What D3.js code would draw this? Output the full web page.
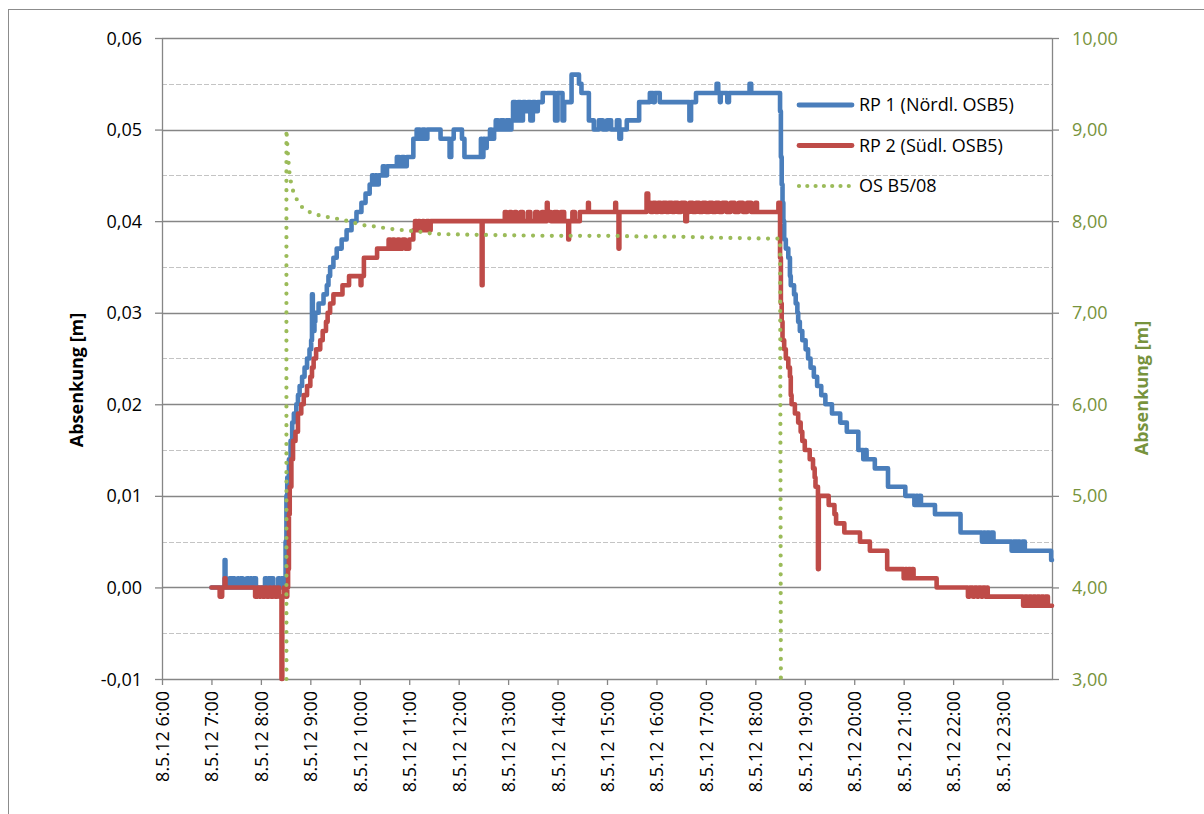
<!DOCTYPE html>
<html><head><meta charset="utf-8">
<script src="https://cdn.jsdelivr.net/npm/d3@7"></script>
<style>
body{margin:0;background:#fff;}
svg{display:block;font-family:"Open Sans",sans-serif;}
</style></head><body>
<svg id="chart" width="1204" height="814"></svg>
<script>
// ---------- data ----------
const xTickHours = [6,7,8,9,10,11,12,13,14,15,16,17,18,19,20,21,22,23];
const xTickLabels = ["8.5.12 6:00","8.5.12 7:00","8.5.12 8:00","8.5.12 9:00","8.5.12 10:00","8.5.12 11:00","8.5.12 12:00","8.5.12 13:00","8.5.12 14:00","8.5.12 15:00","8.5.12 16:00","8.5.12 17:00","8.5.12 18:00","8.5.12 19:00","8.5.12 20:00","8.5.12 21:00","8.5.12 22:00","8.5.12 23:00"];
const leftTicks = [-0.01,0,0.01,0.02,0.03,0.04,0.05,0.06];
const leftMinor = [-0.005,0.005,0.015,0.025,0.035,0.045,0.055];
const rightTicks = [3,4,5,6,7,8,9,10];
const seriesNames = ["RP 1 (Nördl. OSB5)","RP 2 (Südl. OSB5)","OS B5/08"];

// RP 1 : [time, drawdown m] (value holds until next entry)
const rp1 = [
["07:00",0],["07:16",0.003],["07:17",0],
["07:22",0.001],["07:24",0],["07:25",0.001],["07:28",0],
["07:32",0.001],["07:33",0],["07:35",0.001],["07:38",0],
["07:43",0.001],["07:45",0],["07:47",0.001],["07:49",0],
["07:51",0.001],["07:54",0],
["08:05",0.001],["08:07",0],["08:09",0.001],["08:11",0],["08:12",0.001],["08:15",0],
["08:21",0.001],["08:23",0],["08:25",0.001],["08:27",0],
["08:29",0.001],["08:30",0.005],["08:31",0.010],["08:32",0.012],["08:34",0.014],["08:36",0.016],["08:38",0.018],["08:40",0.019],["08:43",0.020],["08:45",0.021],["08:47",0.022],["08:50",0.023],["08:53",0.024],["08:56",0.025],["08:59",0.026],["09:01",0.027],["09:02",0.032],["09:03",0.028],["09:05",0.029],["09:06",0.030],["09:10",0.031],["09:16",0.032],["09:20",0.033],["09:22",0.034],["09:24",0.035],["09:28",0.036],["09:32",0.037],["09:38",0.038],["09:44",0.039],["09:50",0.040],["09:56",0.041],["10:02",0.042],["10:07",0.043],["10:12",0.044],["10:15",0.045],["10:17",0.044],["10:19",0.045],["10:21",0.044],["10:23",0.045],["10:28",0.046],["10:30",0.045],["10:33",0.046],["10:45",0.047],["10:48",0.046],["10:51",0.047],["10:54",0.046],["10:57",0.047],["11:05",0.049],["11:09",0.050],["11:13",0.049],["11:16",0.050],["11:19",0.049],["11:22",0.050],["11:38",0.049],["11:49",0.047],["11:51",0.049],["11:54",0.050],["12:04",0.049],["12:07",0.047],["12:27",0.049],["12:28",0.047],["12:30",0.049],["12:32",0.048],["12:34",0.049],["12:38",0.050],["12:40",0.049],["12:43",0.050],["12:45",0.051],["12:48",0.050],["12:51",0.051],["12:55",0.050],["12:58",0.051],["13:02",0.050],["13:04",0.051],["13:06",0.053],["13:09",0.051],["13:12",0.053],["13:15",0.051],["13:18",0.053],["13:21",0.052],["13:24",0.053],["13:27",0.051],["13:30",0.053],["13:33",0.052],["13:36",0.053],["13:42",0.054],["13:57",0.051],["14:00",0.054],["14:06",0.051],["14:08",0.053],["14:17",0.056],["14:26",0.055],["14:29",0.054],["14:38",0.051],["14:44",0.050],["14:50",0.051],["14:55",0.050],["15:00",0.051],["15:05",0.050],["15:12",0.051],["15:15",0.049],["15:17",0.050],["15:24",0.051],["15:39",0.053],["15:52",0.054],["15:56",0.053],["15:58",0.054],["16:04",0.053],["16:40",0.051],["16:42",0.053],["16:48",0.054],["17:13",0.055],["17:15",0.054],["17:17",0.053],["17:18",0.054],["17:26",0.053],["17:28",0.054],["17:53",0.055],["17:55",0.054],
["18:30",0.052],["18:31",0.047],["18:32",0.044],["18:33",0.042],["18:34",0.040],["18:35",0.038],["18:37",0.037],["18:40",0.036],["18:42",0.034],["18:43",0.033],["18:47",0.032],["18:49",0.031],["18:51",0.030],["18:52",0.029],["18:54",0.028],["18:57",0.027],["19:01",0.026],["19:04",0.025],["19:07",0.024],["19:11",0.023],["19:15",0.022],["19:20",0.021],["19:25",0.020],["19:33",0.019],["19:43",0.018],["19:51",0.017],["20:05",0.015],["20:11",0.014],["20:13",0.015],["20:15",0.014],["20:25",0.013],["20:41",0.011],["21:02",0.010],["21:13",0.009],["21:15",0.010],["21:17",0.009],["21:19",0.010],["21:21",0.009],["21:38",0.008],["22:09",0.006],["22:35",0.005],["22:37",0.006],["22:39",0.005],["22:41",0.006],["22:44",0.005],["22:46",0.006],["22:49",0.005],["23:11",0.004],["23:13",0.005],["23:16",0.004],["23:18",0.005],["23:21",0.004],["23:24",0.005],["23:27",0.004],["23:59",0.003],["24:00",0.003]
];

// RP 2 : [time, drawdown m]
const rp2 = [
["07:00",0],["07:10",-0.001],["07:13",0],["07:16",0.001],["07:17",0],
["07:53",-0.001],["07:56",0],["07:58",-0.001],["08:00",0],["08:02",-0.001],["08:05",0],["08:07",-0.001],["08:10",0],["08:12",-0.001],["08:15",0],["08:17",-0.001],["08:20",0],["08:22",-0.001],["08:25",-0.010],["08:26",-0.001],["08:28",0],["08:30",-0.001],["08:32",0],
["08:33",0.002],["08:34",0.008],["08:35",0.011],["08:37",0.014],["08:39",0.016],["08:42",0.017],["08:45",0.019],["08:49",0.020],["08:52",0.021],["08:56",0.022],["09:00",0.023],["09:02",0.024],["09:04",0.025],["09:07",0.026],["09:12",0.027],["09:15",0.028],["09:19",0.029],["09:21",0.030],["09:24",0.031],["09:28",0.032],["09:39",0.033],["09:47",0.034],["10:01",0.033],["10:02",0.034],["10:05",0.036],["10:21",0.037],["10:35",0.038],["10:37",0.037],["10:40",0.038],["10:42",0.037],["10:46",0.038],["10:48",0.037],["10:52",0.038],["10:55",0.037],["11:00",0.038],["11:05",0.039],["11:07",0.040],["11:09",0.039],["11:11",0.040],["11:13",0.039],["11:16",0.040],["11:18",0.039],["11:21",0.040],["11:24",0.039],["11:26",0.040],
["12:28",0.033],["12:29",0.040],
["12:56",0.041],["12:58",0.040],["13:02",0.041],["13:04",0.040],["13:08",0.041],["13:10",0.040],["13:15",0.041],["13:18",0.040],["13:24",0.041],["13:27",0.040],["13:33",0.041],["13:36",0.040],["13:41",0.041],["13:43",0.040],["13:47",0.042],["13:48",0.041],["13:52",0.040],["13:56",0.041],["14:00",0.040],["14:04",0.041],["14:08",0.040],["14:13",0.038],["14:14",0.040],["14:18",0.041],["14:21",0.040],["14:27",0.041],["14:37",0.042],["14:38",0.041],["15:10",0.042],["15:11",0.041],["15:14",0.037],["15:15",0.041],["15:48",0.043],["15:50",0.042],["15:53",0.041],["15:56",0.042],["15:59",0.041],["16:02",0.042],["16:05",0.041],["16:08",0.042],["16:12",0.041],["16:15",0.042],["16:19",0.041],["16:22",0.042],["16:26",0.041],["16:30",0.042],["16:35",0.040],["16:37",0.041],["16:40",0.042],["16:44",0.041],["16:48",0.042],["16:52",0.041],["16:56",0.042],["17:00",0.041],["17:04",0.042],["17:08",0.041],["17:12",0.042],["17:16",0.041],["17:20",0.042],["17:25",0.041],["17:30",0.042],["17:35",0.041],["17:40",0.042],["17:45",0.041],["17:50",0.042],["17:55",0.041],["18:00",0.042],["18:02",0.041],["18:28",0.042],
["18:30",0.036],["18:31",0.031],["18:32",0.029],["18:33",0.027],["18:35",0.026],["18:37",0.025],["18:40",0.024],["18:42",0.023],["18:43",0.021],["18:44",0.020],["18:48",0.019],["18:52",0.018],["18:55",0.017],["18:57",0.016],["19:00",0.015],["19:06",0.014],["19:10",0.013],["19:12",0.012],["19:13",0.011],["19:16",0.002],["19:17",0.010],["19:29",0.009],["19:36",0.008],["19:38",0.007],["19:48",0.006],["20:07",0.005],["20:19",0.004],["20:40",0.002],["21:00",0.001],["21:02",0.002],["21:04",0.001],["21:06",0.002],["21:08",0.001],["21:10",0.002],["21:12",0.001],["21:40",0],["22:18",-0.001],["22:20",0],["22:24",-0.001],["22:26",0],["22:29",-0.001],["22:31",0],["22:34",-0.001],["22:36",0],["22:39",-0.001],["22:41",0],["22:42",-0.001],["23:25",-0.002],["23:27",-0.001],["23:30",-0.002],["23:32",-0.001],["23:35",-0.002],["23:37",-0.001],["23:40",-0.002],["23:42",-0.001],["23:45",-0.002],["23:47",-0.001],["23:50",-0.002],["23:52",-0.001],["23:55",-0.002],["24:00",-0.002]
];

// OS B5/08 : [time, drawdown m] (secondary axis)
const osb = [
["08:31",3.0],["08:31",9.0],["08:32",8.85],["08:33",8.7],["08:34",8.6],["08:35",8.5],["08:37",8.4],["08:40",8.3],["08:44",8.23],["08:51",8.14],["09:01",8.09],["09:12",8.06],["09:24",8.04],["09:36",8.02],["09:46",8.00],["09:58",7.97],["10:08",7.95],["10:21",7.94],["10:33",7.92],["10:43",7.91],["10:55",7.90],["11:05",7.89],["11:17",7.88],["11:29",7.86],["12:26",7.85],["13:46",7.84],["15:07",7.84],["15:48",7.83],["16:29",7.83],["17:09",7.82],["18:09",7.81],["18:30",7.81],["18:31",3.0]
];

// ---------- chart ----------
const T = s => { const [h,m] = s.split(":").map(Number); return new Date(2012,4,8,h,m); };
const loc = d3.formatLocale({decimal:",",thousands:".",grouping:[3],currency:["","€"],minus:"-"});
const f2 = loc.format(".2f");

const L = 162, R = 1052, TOP = 38, BOT = 679;
const x = d3.scaleTime().domain([T("06:00"), T("24:00")]).range([L, R]);
const yL = d3.scaleLinear().domain([-0.01, 0.06]).range([BOT, TOP]);
const yR = d3.scaleLinear().domain([3, 10]).range([BOT, TOP]);

const svg = d3.select("#chart");
const axisCol = "#868686", green = "#77933C";
const FS = "18px";

svg.append("rect").attr("x",8.5).attr("y",9.5).attr("width",1210).attr("height",820)
  .attr("fill","#fff").attr("stroke","#8c8c8c").attr("stroke-width",1);

// gridlines
svg.append("g").selectAll("line").data(leftMinor).join("line")
  .attr("x1",L).attr("x2",R).attr("y1",d=>Math.round(yL(d))+0.5).attr("y2",d=>Math.round(yL(d))+0.5)
  .attr("stroke","#c4c4c4").attr("stroke-width",1).attr("stroke-dasharray","5,2");
svg.append("g").selectAll("line").data(leftTicks.filter(d=>d>-0.01)).join("line")
  .attr("x1",L).attr("x2",R).attr("y1",d=>Math.round(yL(d))+0.5).attr("y2",d=>Math.round(yL(d))+0.5)
  .attr("stroke",axisCol).attr("stroke-width",1.3);

// axes
function styleAxis(g){
  g.select(".domain").attr("stroke",axisCol).attr("stroke-width",1.3);
  g.selectAll(".tick line").attr("stroke",axisCol).attr("stroke-width",1.3);
  g.selectAll("text").style("font-size",FS).style("font-family","'Open Sans',sans-serif");
}
const gl = svg.append("g").attr("transform",`translate(${L},0)`)
  .call(d3.axisLeft(yL).tickValues(leftTicks).tickFormat(f2).tickSize(7).tickSizeOuter(0).tickPadding(13));
styleAxis(gl); gl.selectAll("text").attr("fill","#000").attr("dy","0.34em");

const gr = svg.append("g").attr("transform",`translate(${R},0)`)
  .call(d3.axisRight(yR).tickValues(rightTicks).tickFormat(f2).tickSize(7).tickSizeOuter(0).tickPadding(13));
styleAxis(gr); gr.selectAll("text").attr("fill",green).attr("dy","0.34em");

const gx = svg.append("g").attr("transform",`translate(0,${BOT})`)
  .call(d3.axisBottom(x).tickValues(xTickHours.map(h=>new Date(2012,4,8,h,0)))
    .tickFormat((d,i)=>xTickLabels[i]).tickSize(6).tickSizeOuter(0));
styleAxis(gx);
gx.selectAll("text").attr("fill","#000").attr("transform","rotate(-90)")
  .attr("x",-12).attr("y",0).attr("dy","0.36em").style("text-anchor","end");

// axis titles
svg.append("text").attr("transform","translate(83,380) rotate(-90)")
  .attr("text-anchor","middle").style("font-size",FS).style("font-weight","bold").attr("fill","#000")
  .text("Absenkung [m]");
svg.append("text").attr("transform","translate(1148,388) rotate(-90)")
  .attr("text-anchor","middle").style("font-size",FS).style("font-weight","bold").attr("fill",green)
  .text("Absenkung [m]");

// series
const blue = "#4A7EBB", red = "#BE4B48", lime = "#9BBB59";
const stepLine = d3.line().x(d=>x(T(d[0]))).y(d=>yL(d[1])).curve(d3.curveStepAfter);
const osLine = d3.line().x(d=>x(T(d[0]))).y(d=>yR(d[1]));

svg.append("path").datum(rp1).attr("d",stepLine).attr("fill","none")
  .attr("stroke",blue).attr("stroke-width",4.6).attr("stroke-linejoin","round").attr("stroke-linecap","round");
svg.append("path").datum(rp2).attr("d",stepLine).attr("fill","none")
  .attr("stroke",red).attr("stroke-width",4.6).attr("stroke-linejoin","round").attr("stroke-linecap","round");
svg.append("path").datum(osb).attr("d",osLine).attr("fill","none")
  .attr("stroke",lime).attr("stroke-width",4.2).attr("stroke-linecap","round").attr("stroke-dasharray","0,9.4");

// legend
const lg = svg.append("g");
const legY = [105, 145.5, 186];
const legCol = [blue, red, lime];
seriesNames.forEach((n,i)=>{
  const ln = lg.append("line").attr("x1",799).attr("x2",852).attr("y1",legY[i]).attr("y2",legY[i])
    .attr("stroke",legCol[i]).attr("stroke-linecap","round");
  if(i<2) ln.attr("stroke-width",4.8);
  else ln.attr("stroke-width",4.2).attr("stroke-dasharray","0,8.3");
  lg.append("text").attr("x",859).attr("y",legY[i]).attr("dy","0.35em")
    .style("font-size",FS).attr("fill","#000").text(n);
});
</script>
</body></html>
